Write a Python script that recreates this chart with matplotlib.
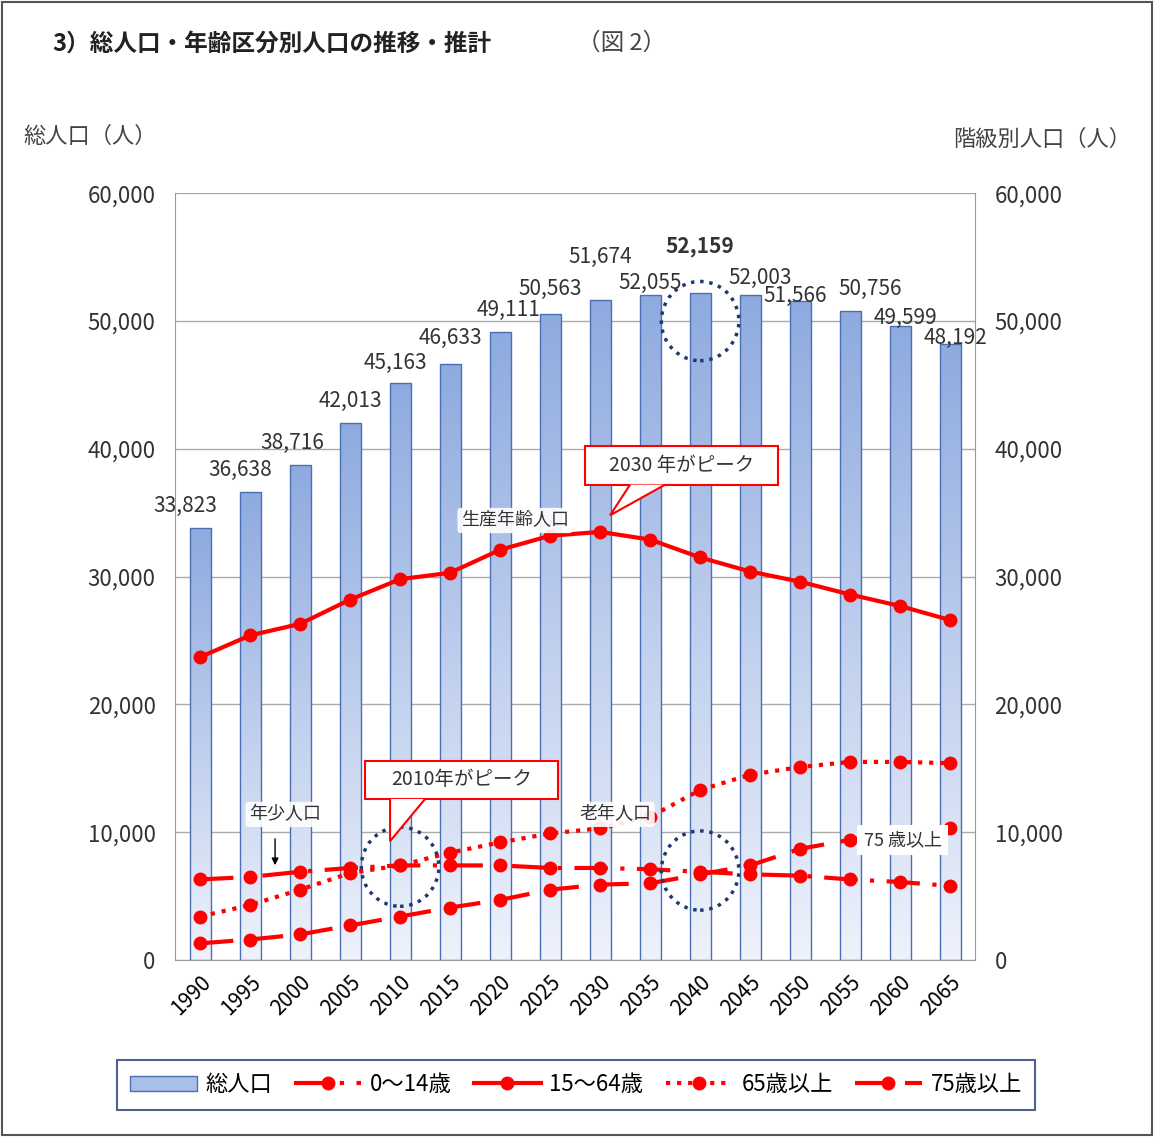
import numpy as np
import matplotlib.pyplot as plt
from matplotlib.patches import Ellipse, Polygon, Rectangle
from matplotlib.lines import Line2D
from matplotlib.colors import LinearSegmentedColormap

plt.rcParams['font.family'] = ['Noto Sans CJK JP', 'DejaVu Sans']

years = [1990, 1995, 2000, 2005, 2010, 2015, 2020, 2025, 2030, 2035,
         2040, 2045, 2050, 2055, 2060, 2065]
total = [33823, 36638, 38716, 42013, 45163, 46633, 49111, 50563, 51674, 52055,
         52159, 52003, 51566, 50756, 49599, 48192]
age_0_14 = [6300, 6500, 6900, 7200, 7400, 7400, 7400, 7200, 7200, 7100,
            6900, 6700, 6600, 6300, 6100, 5800]
age_15_64 = [23700, 25400, 26300, 28200, 29800, 30300, 32100, 33200, 33500, 32900,
             31500, 30400, 29600, 28600, 27700, 26600]
age_65 = [3400, 4300, 5500, 6800, 7400, 8400, 9200, 9900, 10300, 11200,
          13300, 14500, 15100, 15500, 15500, 15400]
age_75 = [1300, 1600, 2000, 2700, 3400, 4100, 4700, 5500, 5900, 6000,
          6700, 7400, 8700, 9400, 10000, 10300]

# label offsets in pixels (dx, dy) above each bar top
label_dx = [-15, -10, -8, 0, -5, 0, 8, 0, 0, 0, 0, 10, -5, 20, 5, 5]
label_dy = [22, 22, 22, 22, 20, 26, 22, 25, 43, 12, 47, 18, 5, 22, 8, 6]

red = '#ff0000'
fig = plt.figure(figsize=(11.54, 11.37), dpi=100)
ax = fig.add_axes([0.1517, 0.1557, 0.6933, 0.6743])
x = np.arange(len(years))

bars = ax.bar(x, total, width=0.42, color='none', edgecolor='#4a6fb5', linewidth=1, zorder=2)
grad = np.linspace(0, 1, 256).reshape(-1, 1)
cmap = LinearSegmentedColormap.from_list('g', ['#eef2fb', '#8eaadf'])
for b in bars:
    im = ax.imshow(grad, extent=[b.get_x(), b.get_x() + b.get_width(), 0, b.get_height()],
                   aspect='auto', origin='lower', cmap=cmap, zorder=1.5)
    im.set_clip_path(b)
for i, v in enumerate(total):
    ax.annotate(f'{v:,}', (i, v), xytext=(label_dx[i], label_dy[i]), textcoords='offset pixels',
                ha='center', va='center', fontsize=15, color='#333333',
                fontweight='bold' if i == 10 else 'normal', zorder=6)

kw = dict(color=red, lw=3, marker='o', ms=9)
ax.plot(x, age_0_14, ls=(0, (8, 3, 1, 3)), zorder=4, **kw)
ax.plot(x, age_15_64, ls='-', zorder=4, **kw)
ax.plot(x, age_65, ls=':', zorder=4, **kw)
ax.plot(x, age_75, ls=(0, (8, 4)), zorder=4, **kw)

ax.set_xlim(-0.5, len(years) - 0.5)
ax.set_ylim(0, 60000)
ticks = list(range(0, 60001, 10000))
ax.set_yticks(ticks)
ax.set_yticklabels([f'{v:,}' for v in ticks], fontsize=16, color='#333333')
ax.set_xticks(x)
ax.set_xticklabels(years, rotation=45, ha='right', rotation_mode='anchor', fontsize=15)
ax.tick_params(axis='x', length=0, pad=8)
ax.tick_params(axis='y', length=0, pad=14)
ax.grid(axis='y', color='#aaaaaa', lw=1, zorder=0)
ax.set_axisbelow(True)
for s in ['left', 'right', 'bottom']:
    ax.spines[s].set_color('#999999')
ax.spines['top'].set_visible(False)

ax2 = ax.twinx()
ax2.set_ylim(0, 60000)
ax2.set_yticks(ticks)
ax2.set_yticklabels([f'{v:,}' for v in ticks], fontsize=16, color='#333333')
ax2.tick_params(axis='y', length=0, pad=14)
for s in ax2.spines.values():
    s.set_visible(False)

# dotted circles
for cx, cy in [(10, 50000), (4, 7300), (10, 7000)]:
    ax.add_patch(Ellipse((cx, cy), 1.55, 6200, fill=False, ls=':', lw=2.5,
                         edgecolor='#1f3a6e', zorder=5))


def callout(x0, y0, w, h, tip, text):
    ax.add_patch(Rectangle((x0, y0), w, h, facecolor='white', edgecolor=red, lw=1.5, zorder=7))
    ax.add_patch(Polygon(tip, closed=False, facecolor='white', edgecolor=red, lw=1.5, zorder=7.5))
    ax.text(x0 + w / 2, y0 + h / 2, text, ha='center', va='center', fontsize=14,
            color='#333333', zorder=8)


callout(7.7, 37200, 3.85, 3000,
        [(8.6, 37200), (8.2, 34800), (9.3, 37200)], '2030 年がピーク')
callout(3.3, 12600, 3.85, 3000,
        [(3.8, 12600), (3.8, 9300), (4.5, 12600)], '2010年がピーク')

box = dict(boxstyle='round,pad=0.2', facecolor='white', edgecolor='none', alpha=0.9)
ax.text(6.3, 34000, '生産年齢人口', fontsize=13, color='#333333', ha='center', zorder=6, bbox=box)
ax.text(1.7, 11000, '年少人口', fontsize=13, color='#333333', ha='center', zorder=6, bbox=box)
ax.annotate('', xy=(1.5, 7200), xytext=(1.5, 9700),
            arrowprops=dict(arrowstyle='-|>', color='black', lw=1), zorder=6)
ax.text(8.3, 11000, '老年人口', fontsize=13, color='#333333', ha='center', zorder=6, bbox=box)
ax.text(14.05, 9400, '75 歳以上', fontsize=13, color='#333333', ha='center', va='center',
        zorder=6, bbox=dict(boxstyle='square,pad=0.35', facecolor='white', edgecolor='none'))

fig.text(0.045, 0.962, '3）総人口・年齢区分別人口の推移・推計', fontsize=17, fontweight='bold',
         color='#222222', va='center')
fig.text(0.50, 0.962, '（図 2）', fontsize=17, color='#444444', va='center')
fig.text(0.02, 0.88, '総人口（人）', fontsize=16, color='#444444', va='center')
fig.text(0.98, 0.877, '階級別人口（人）', fontsize=16, color='#444444', va='center', ha='right')

handles = [Rectangle((0, 0), 1, 1, facecolor='#a9bfe8', edgecolor='#4a6fb5'),
           Line2D([], [], ls=(0, (8, 3, 1, 3)), **kw),
           Line2D([], [], ls='-', **kw),
           Line2D([], [], ls=':', **kw),
           Line2D([], [], ls=(0, (8, 4)), **kw)]
leg = fig.legend(handles, ['総人口', '0〜14歳', '15〜64歳', '65歳以上', '75歳以上'],
                 loc='center', bbox_to_anchor=(0.499, 0.046), ncol=5, fontsize=16,
                 frameon=True, fancybox=False, edgecolor='#1f3a6e', handlelength=3,
                 columnspacing=1.0, handletextpad=0.4, borderpad=0.6)
leg.get_frame().set_linewidth(1.5)

fig.add_artist(Rectangle((0.002, 0.002), 0.996, 0.996, transform=fig.transFigure,
                         fill=False, edgecolor='#555555', lw=1.5))
fig.savefig('out.png', dpi=100)
